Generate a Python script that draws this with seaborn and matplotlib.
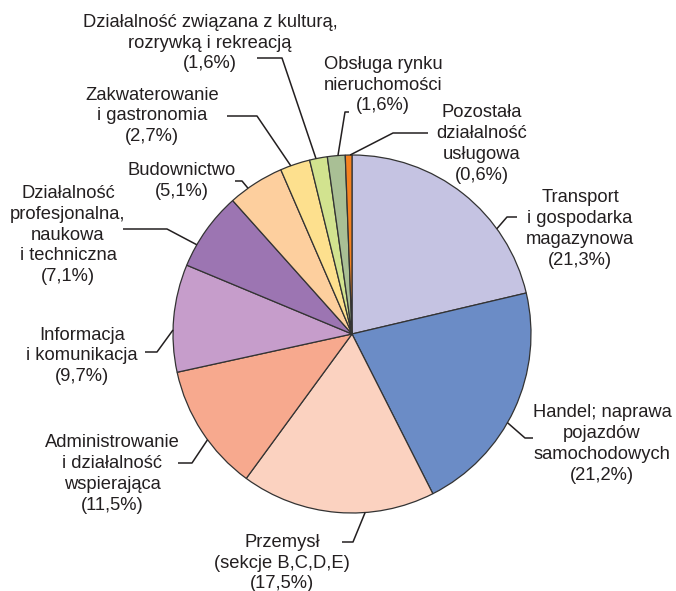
import numpy as np
import matplotlib
matplotlib.use("Agg")
import matplotlib.pyplot as plt
import seaborn as sns

# data (share of units, %)
labels = ['Transport\ni gospodarka\nmagazynowa',
          'Handel; naprawa\npojazdów\nsamochodowych',
          'Przemysł\n(sekcje B,C,D,E)',
          'Administrowanie\ni działalność\nwspierająca',
          'Informacja\ni komunikacja',
          'Działalność\nprofesjonalna,\nnaukowa\ni techniczna',
          'Budownictwo',
          'Zakwaterowanie\ni gastronomia',
          'Działalność związana z kulturą,\nrozrywką i rekreacją',
          'Obsługa rynku\nnieruchomości',
          'Pozostała\ndziałalność\nusługowa']
shares = [21.3, 21.2, 17.5, 11.5, 9.7, 7.1, 5.1, 2.7, 1.6, 1.6, 0.6]
colors = ['#c5c3e2', '#6b8cc6', '#fbd2c0', '#f7a98e', '#c69dcb', '#9c75b2',
          '#fdcf9e', '#fde08e', '#d2e38f', '#a9bf95', '#f58220']

# label layout in pixel coords (y measured from top)
text_pos = [(580, 229), (602, 444), (282, 563), (112, 474), (82, 356), (68, 235),
            (182, 181), (152, 116), (210, 43), (383, 85), (482, 144)]
anchor_deg = [36.0, -29.7, -85.8, 216.2, 178.7, 150.1, 125.5, 110.0, 101.6, 94.5, 90.6]
elbows = [((507, 217), (517, 217)), ((525, 438), (533, 438)), ((353, 542), (342, 542)),
          ((192, 463), (178, 463)), ((157, 352), (145, 352)), ((167, 229), (123, 229)),
          ((242, 181), (235, 181)), ((257, 116), (227, 116)), ((282, 58), (257, 58)),
          ((345, 112), (349, 112)), ((393, 133), (428, 133))]

W, H = 676, 591
cx, cy, R = 352, H - 334, 179

sns.set_theme(style="white")
plt.rcParams['font.family'] = ['Liberation Sans', 'DejaVu Sans']

fig = plt.figure(figsize=(W / 100, H / 100), dpi=100)
ax = fig.add_axes([0, 0, 1, 1])

ax.pie(shares, colors=sns.color_palette(colors), startangle=90, counterclock=False,
       center=(cx, cy), radius=R,
       wedgeprops=dict(edgecolor='#333333', linewidth=0.9))

for lab, val, (tx, ty), ang, (e1, e2) in zip(labels, shares, text_pos, anchor_deg, elbows):
    txt = lab + '\n(' + f'{val:.1f}'.replace('.', ',') + '%)'
    ax.text(tx, H - ty, txt, ha='center', va='center', fontsize=13.2,
            color='#231f20', linespacing=1.3)
    a = np.deg2rad(ang)
    xs = [cx + R * np.cos(a), e1[0], e2[0]]
    ys = [cy + R * np.sin(a), H - e1[1], H - e2[1]]
    ax.plot(xs, ys, color='#231f20', lw=1.1, solid_capstyle='butt')

ax.set_xlim(0, W)
ax.set_ylim(0, H)
ax.set_aspect('equal')
ax.axis('off')

fig.savefig('out.png', dpi=100)
